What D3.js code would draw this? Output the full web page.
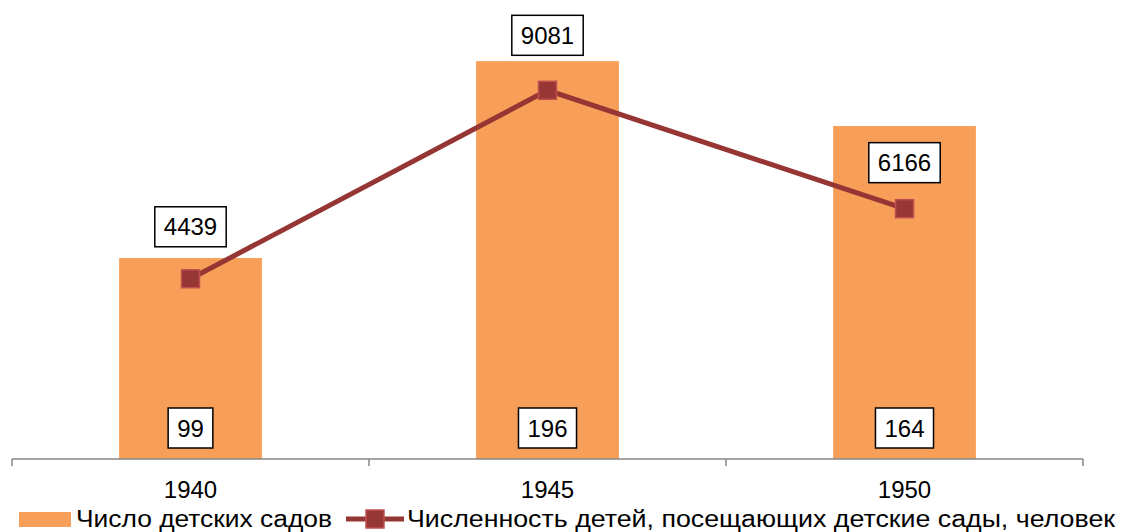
<!DOCTYPE html>
<html>
<head>
<meta charset="utf-8">
<script src="https://d3js.org/d3.v7.min.js"></script>
<style>
  body { margin: 0; background: #fff; }
  text { font-family: "Liberation Sans", Arial, sans-serif; }
</style>
</head>
<body>
<svg id="chart"></svg>
<script>
var years = ["1940", "1945", "1950"]
var gardens = [99, 196, 164]
var children = [4439, 9081, 6166]
var legendNames = ["Число детских садов", "Численность детей, посещающих детские сады, человек"]

var screen = {width: 1121, height: 532}
var margin = {left: 12, right: 38, top: 53, bottom: 73}
var svg = d3.select("#chart")
    .attr("width", screen.width)
    .attr("height", screen.height)

var plotBottom = screen.height - margin.bottom
var xScale = d3.scaleBand()
    .domain(years)
    .range([margin.left, screen.width - margin.right])
var yBar = d3.scaleLinear().domain([0, 200]).range([plotBottom, margin.top])
var yLine = d3.scaleLinear().domain([0, 10000]).range([plotBottom, margin.top])

var barW = xScale.bandwidth() * 0.4
var cx = function (d, i) { return xScale(years[i]) + xScale.bandwidth() / 2 }

// bars
svg.selectAll("rect.bar")
    .data(gardens)
    .enter()
    .append("rect")
    .attr("class", "bar")
    .attr("x", function (d, i) { return cx(d, i) - barW / 2 })
    .attr("y", function (d) { return yBar(d) })
    .attr("width", barW)
    .attr("height", function (d) { return plotBottom - yBar(d) })
    .attr("fill", "#F79F58")

// x axis
var axis = svg.append("g")
    .attr("transform", "translate(0," + plotBottom + ")")
    .call(d3.axisBottom(xScale).tickSize(0).tickPadding(22))
axis.select(".domain").remove()
axis.append("line")
    .attr("x1", margin.left).attr("x2", screen.width - margin.right)
    .attr("stroke", "#868686").attr("stroke-width", 1.5)
var edges = years.map(function (y) { return xScale(y) }).concat([screen.width - margin.right])
axis.selectAll("line.edge")
    .data(edges)
    .enter()
    .append("line")
    .attr("class", "edge")
    .attr("x1", function (d) { return d }).attr("x2", function (d) { return d })
    .attr("y1", 0).attr("y2", 7)
    .attr("stroke", "#868686").attr("stroke-width", 1.5)
axis.selectAll(".tick text")
    .style("font-size", "24px")
    .attr("fill", "#000")

// line
var line = d3.line()
    .x(function (d, i) { return cx(d, i) })
    .y(function (d) { return yLine(d) })
svg.append("path")
    .datum(children)
    .attr("d", line)
    .attr("fill", "none")
    .attr("stroke", "#963634")
    .attr("stroke-width", 5)

svg.selectAll("rect.marker")
    .data(children)
    .enter()
    .append("rect")
    .attr("class", "marker")
    .attr("x", function (d, i) { return cx(d, i) - 9 })
    .attr("y", function (d) { return yLine(d) - 9 })
    .attr("width", 18)
    .attr("height", 18)
    .attr("fill", "#973735")
    .attr("stroke", "#C0504D")
    .attr("stroke-width", 1.5)

// value labels
var addLabel = function (x, y, txt) {
    var g = svg.append("g")
    var t = g.append("text")
        .attr("x", x).attr("y", y)
        .attr("text-anchor", "middle")
        .attr("dominant-baseline", "central")
        .style("font-size", "24px")
        .text(txt)
    var b = t.node().getBBox()
    g.insert("rect", "text")
        .attr("x", b.x - 9).attr("y", y - 20)
        .attr("width", b.width + 18).attr("height", 40)
        .attr("fill", "#fff").attr("stroke", "#000").attr("stroke-width", 1.5)
}
gardens.forEach(function (d, i) { addLabel(cx(d, i), plotBottom - 31, d) })
var lineLabelOff = [52, 55, 46]
children.forEach(function (d, i) { addLabel(cx(d, i), yLine(d) - lineLabelOff[i], d) })

// legend
var ly = 519
svg.append("rect")
    .attr("x", 19).attr("y", ly - 7).attr("width", 52).attr("height", 15)
    .attr("fill", "#F79F58")
svg.append("text")
    .attr("x", 76).attr("y", ly).attr("dominant-baseline", "central")
    .style("font-size", "23px")
    .attr("textLength", 256).attr("lengthAdjust", "spacingAndGlyphs")
    .text(legendNames[0])
svg.append("line")
    .attr("x1", 346).attr("x2", 404).attr("y1", ly).attr("y2", ly)
    .attr("stroke", "#963634").attr("stroke-width", 5)
svg.append("rect")
    .attr("x", 366).attr("y", ly - 9).attr("width", 18).attr("height", 18)
    .attr("fill", "#973735").attr("stroke", "#C0504D").attr("stroke-width", 1.5)
svg.append("text")
    .attr("x", 407).attr("y", ly).attr("dominant-baseline", "central")
    .style("font-size", "23px")
    .attr("textLength", 708).attr("lengthAdjust", "spacingAndGlyphs")
    .text(legendNames[1])
</script>
</body>
</html>
